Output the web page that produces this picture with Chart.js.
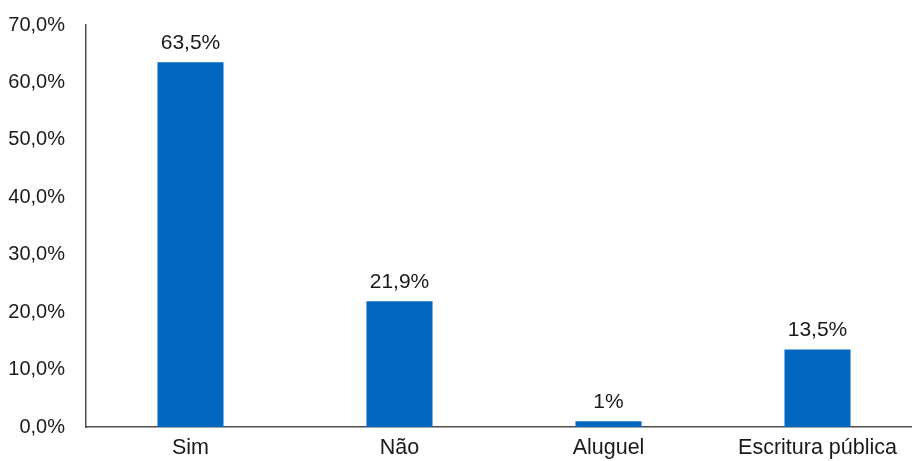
<!DOCTYPE html>
<html>
<head>
<meta charset="utf-8">
<script src="https://cdn.jsdelivr.net/npm/chart.js@4"></script>
<style>
html,body{margin:0;padding:0;background:#fff;overflow:hidden;width:912px;height:461px;}
#wrap{width:924px;height:469px;position:relative;margin-top:-8px;}
</style>
</head>
<body>
<div id="wrap"><canvas id="c" width="924" height="469"></canvas></div>
<script>
const categories = ["Sim", "Não", "Aluguel", "Escritura pública"];
const values = [63.5, 21.9, 1, 13.5];
const valueLabels = ["63,5%", "21,9%", "1%", "13,5%"];
const yTickLabels = ["0,0%", "10,0%", "20,0%", "30,0%", "40,0%", "50,0%", "60,0%", "70,0%"];

const FONT = "'Liberation Sans', Arial, sans-serif";

const dataLabelPlugin = {
  id: 'dataLabels',
  afterDatasetsDraw(chart) {
    const ctx = chart.ctx;
    const meta = chart.getDatasetMeta(0);
    ctx.save();
    ctx.fillStyle = '#1a1a1a';
    ctx.font = '21px ' + FONT;
    ctx.textAlign = 'center';
    ctx.textBaseline = 'bottom';
    meta.data.forEach((bar, i) => {
      ctx.fillText(valueLabels[i], bar.x, bar.y - 9);
    });
    ctx.restore();
  }
};

new Chart(document.getElementById('c'), {
  type: 'bar',
  data: {
    labels: categories,
    datasets: [{
      data: values,
      backgroundColor: '#0066c0',
      borderWidth: 0,
      barPercentage: 0.316,
      categoryPercentage: 1.0
    }]
  },
  options: {
    responsive: false,
    animation: false,
    events: [],
    layout: { padding: { top: 0, right: 2, left: 0, bottom: 0 } },
    plugins: { legend: { display: false }, tooltip: { enabled: false } },
    scales: {
      y: {
        min: 0, max: 70,
        afterFit(scale) { scale.width = 86; },
        ticks: {
          stepSize: 10,
          padding: 21,
          color: '#1a1a1a',
          font: { family: FONT, size: 20 },
          callback: (v) => yTickLabels[Math.round(v / 10)]
        },
        grid: { display: false, drawTicks: false },
        border: { display: true, color: '#4d4d4d', width: 1.5 }
      },
      x: {
        afterFit(scale) { scale.height = 34; },
        ticks: {
          padding: 8,
          color: '#1a1a1a',
          font: { family: FONT, size: 21.5 },
          maxRotation: 0, autoSkip: false
        },
        grid: { display: false, drawTicks: false },
        border: { display: true, color: '#4d4d4d', width: 1.5 }
      }
    }
  },
  plugins: [dataLabelPlugin]
});
</script>
</body>
</html>
